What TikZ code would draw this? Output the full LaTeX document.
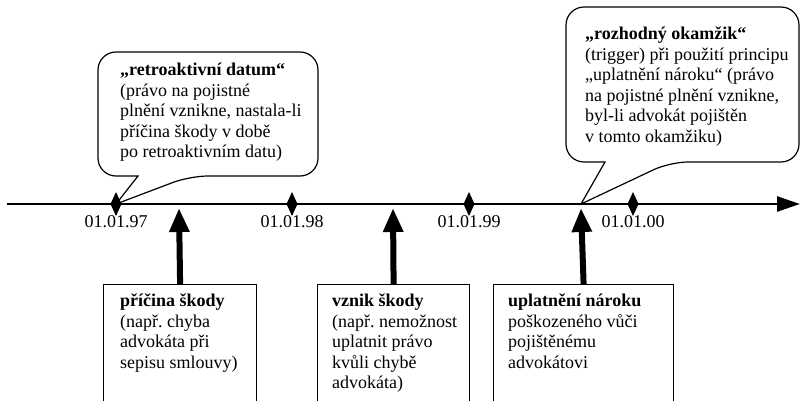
\documentclass[tikz,border=0pt]{standalone}
\usepackage{fontspec}
\setmainfont{Liberation Serif}
\usetikzlibrary{arrows.meta}
\frenchspacing

\tikzset{
	txt/.style={font=\fontsize{18}{20.5}\selectfont},
	notebox/.style={draw, line width=1.2pt, anchor=north west, minimum height=130pt, inner sep=0pt},
	notetext/.style={txt, anchor=north west, align=left, inner sep=0pt},
	callout/.style={line width=1.2pt},
	uparrow/.style={line width=6pt, -{Triangle[length=24pt,width=19pt]}},
}

\begin{document}
\begin{tikzpicture}[x=1pt, y=-1pt]
	\useasboundingbox (0,0) rectangle (800,400);
	\clip (0,0) rectangle (800,400);
	
	% time axis
	\coordinate (axisstart) at (7,204);
	\coordinate (axisend) at (800,204);
	\draw[line width=2.5pt, -{Triangle[length=23pt,width=15pt]}] (axisstart) -- (axisend);
	
	% dates on the axis
	\foreach \xd/\lab [count=\i] in {116/01.01.97, 292/01.01.98, 469/01.01.99, 633/01.01.00} {
		\coordinate (d\i) at (\xd,204);
		\fill (\xd,192) -- (\xd+5.5,204) -- (\xd,216) -- (\xd-5.5,204) -- cycle;
		\node[txt, inner sep=0pt] (date\i) at (\xd,222) {\lab};
	}
	
	% points where the events meet the axis
	\coordinate (cause) at (179,208);
	\coordinate (damage) at (393,208);
	\coordinate (claim) at (581,208);
	\coordinate (trigger) at (581,204);
	
	% boxes below the axis
	\node[notebox, minimum width=153pt] (causebox) at (103,284) {};
	\node[notetext] (causetext) at ([xshift=17pt,yshift=-10pt]causebox.north west) {\textbf{příčina škody}\\(např. chyba\\advokáta při\\sepisu smlouvy)};
	\node[notebox, minimum width=152pt] (damagebox) at (317,284) {};
	\node[notetext] (damagetext) at ([xshift=15pt,yshift=-10pt]damagebox.north west) {\textbf{vznik škody}\\(např. nemožnost\\uplatnit právo\\kvůli chybě\\advokáta)};
	\node[notebox, minimum width=180pt] (claimbox) at (493,284) {};
	\node[notetext] (claimtext) at ([xshift=15pt,yshift=-10pt]claimbox.north west) {\textbf{uplatnění nároku}\\poškozeného vůči\\pojištěnému\\advokátovi};
	
	\draw[uparrow] (causebox.north) -- (cause);
	\draw[uparrow] (damagebox.north) -- (damage);
	\draw[uparrow] (claimbox.north) -- (claim);
	
	% callout: retroactive date
	\draw[callout] (d1) -- (138,176) [rounded corners=18pt] -- (98,176) -- (98,52) -- (318,52) -- (318,176) -- (190,176) [sharp corners] -- cycle;
	\node[notetext] (retro) at (120,63) {\textbf{„retroaktivní datum“}\\(právo na pojistné\\plnění vznikne, nastala-li\\příčina škody v době\\po retroaktivním datu)};
	
	% callout: trigger
	\draw[callout] (trigger) -- (605,162) [rounded corners=18pt] -- (566,162) -- (566,7) -- (799,7) -- (799,162) -- (670,162) [sharp corners] -- cycle;
	\node[notetext] (moment) at (585,27) {\textbf{„rozhodný okamžik“}\\(trigger) při použití principu\\„uplatnění nároku“ (právo\\na pojistné plnění vznikne,\\byl-li advokát pojištěn\\v tomto okamžiku)};
	
\end{tikzpicture}
\end{document}
